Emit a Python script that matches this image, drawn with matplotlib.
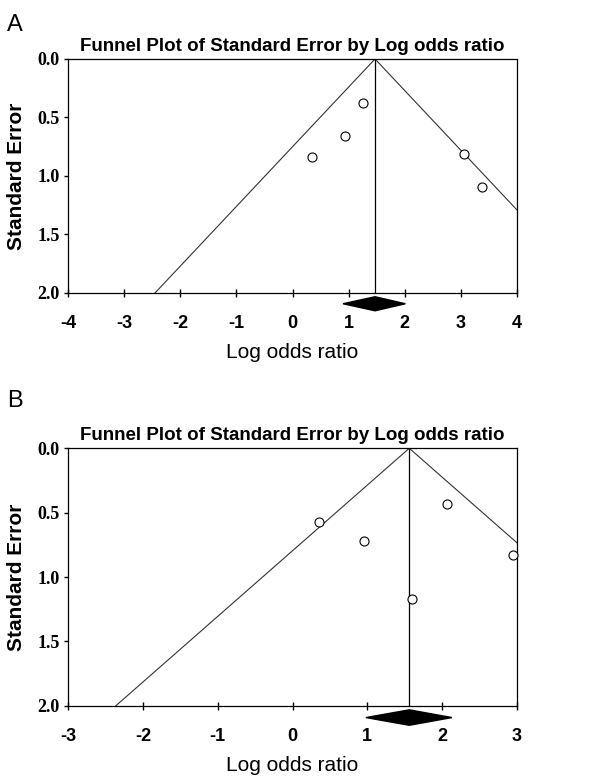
import matplotlib
matplotlib.use("Agg")
import matplotlib.pyplot as plt
from matplotlib.patches import Polygon

# panel A data
a_lor = [1.25, 0.94, 0.35, 3.05, 3.37]
a_se = [0.38, 0.66, 0.84, 0.81, 1.09]
a_pooled = 1.47
a_ci = [0.90, 2.01]
a_xlim = [-4, 4]
a_xticks = [-4, -3, -2, -1, 0, 1, 2, 3, 4]

# panel B data
b_lor = [0.35, 0.95, 1.60, 2.07, 2.94]
b_se = [0.57, 0.72, 1.17, 0.435, 0.83]
b_pooled = 1.56
b_ci = [0.98, 2.13]
b_xlim = [-3, 3]
b_xticks = [-3, -2, -1, 0, 1, 2, 3]

se_ticks = [0.0, 0.5, 1.0, 1.5, 2.0]
se_max = 2.0

plt.rcParams['font.family'] = ['Liberation Sans', 'DejaVu Sans']

fig = plt.figure(figsize=(6.15, 7.78), dpi=100)


def funnel(ax, lor, se, pooled, ci, xlim, xticks):
    ax.set_xlim(xlim)
    ax.set_ylim(se_max, 0)
    # 95% funnel lines
    ax.plot([pooled - 1.96 * se_max, pooled, pooled + 1.96 * se_max],
            [se_max, 0, se_max], color='#333333', lw=0.8)
    ax.axvline(pooled, color='black', lw=0.9)
    ax.plot(lor, se, 'o', mfc='white', mec='black', ms=6.5, mew=0.8,
            clip_on=False, zorder=5)
    # pooled estimate diamond under the axis
    h = 0.06
    yc = se_max + 0.092
    d = Polygon([(ci[0], yc), (pooled, yc - h), (ci[1], yc), (pooled, yc + h)],
                closed=True, color='black', clip_on=False)
    ax.add_patch(d)
    ax.set_xticks(xticks)
    ax.set_xticklabels([str(t) for t in xticks],
                       fontsize=13, fontweight='bold')
    ax.set_yticks(se_ticks)
    ax.set_yticklabels(['%.1f' % t for t in se_ticks], fontsize=13,
                       fontweight='bold', family='Liberation Serif')
    ax.tick_params(axis='x', direction='inout', length=6, width=1, pad=13)
    ax.tick_params(axis='y', direction='out', length=3, width=1, pad=3)
    for s in ax.spines.values():
        s.set_linewidth(0.9)
    ax.set_title('Funnel Plot of Standard Error by Log odds ratio',
                 fontsize=13.5, fontweight='bold', pad=6)
    ax.set_ylabel('Standard Error', fontsize=15, fontweight='bold', labelpad=8)
    ax.set_xlabel('Log odds ratio', fontsize=15, labelpad=8)


ax1 = fig.add_axes([0.1106, 0.6234, 0.7301, 0.3008])
funnel(ax1, a_lor, a_se, a_pooled, a_ci, a_xlim, a_xticks)

ax2 = fig.add_axes([0.1106, 0.0929, 0.7301, 0.3309])
funnel(ax2, b_lor, b_se, b_pooled, b_ci, b_xlim, b_xticks)

fig.text(0.012, 0.968, 'A', fontsize=17, va='center', ha='left')
fig.text(0.012, 0.485, 'B', fontsize=17, va='center', ha='left')

fig.savefig('out.png', dpi=100, facecolor='white')
